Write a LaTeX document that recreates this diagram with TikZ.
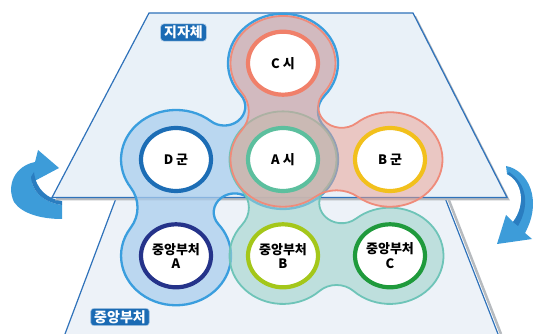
\documentclass[tikz,border=0pt]{standalone}
\usepackage{fontspec}
\setmainfont{Noto Sans CJK KR}
\usetikzlibrary{shapes.geometric}
\definecolor{planefill}{HTML}{E9F1F8}
\definecolor{planeline}{HTML}{2F72BA}
\definecolor{shadowgray}{HTML}{B7BBBF}
\definecolor{lowfill}{HTML}{EDF2F8}
\definecolor{bluefill}{HTML}{A9CDEE}
\definecolor{blueline}{HTML}{3A9EDE}
\definecolor{salfill}{HTML}{EB9F8F}
\definecolor{salline}{HTML}{EF8B7A}
\definecolor{tealfill}{HTML}{9FD3CC}
\definecolor{tealline}{HTML}{6EC4B8}
\definecolor{ringC}{HTML}{F0806A}
\definecolor{ringA}{HTML}{5CBF9E}
\definecolor{ringD}{HTML}{1C6DB5}
\definecolor{ringB}{HTML}{F2C01C}
\definecolor{ringMA}{HTML}{25338A}
\definecolor{ringMB}{HTML}{A4C71A}
\definecolor{ringMC}{HTML}{1F9A3C}
\definecolor{arrowblue}{HTML}{3D9CD9}
\definecolor{arrowdark}{HTML}{2A7DC0}
\definecolor{tagblue}{HTML}{1B6BB4}
% fillet between lobe P and lobe Q (outer side on the right of P->Q)
\newcommand\bxfil[7]{%
 \pgfmathsetmacro\bxdx{(#4)-(#2)}%
 \pgfmathsetmacro\bxdy{(#5)-(#3)}%
 \pgfmathsetmacro\bxd{veclen(\bxdx,\bxdy)}%
 \pgfmathsetmacro\bxh{sqrt(max(((#6)+(#7))^2-(\bxd/2)^2,0))}%
 \pgfmathsetmacro\bxfx{((#2)+(#4))/2+\bxh*\bxdy/\bxd}%
 \pgfmathsetmacro\bxfy{((#3)+(#5))/2-\bxh*\bxdx/\bxd}%
 \pgfmathsetmacro\bxap{atan2((\bxfy)-(#3),(\bxfx)-(#2))}%
 \pgfmathsetmacro\bxaq{atan2((\bxfy)-(#5),(\bxfx)-(#4))}%
 \pgfmathsetmacro\bxfs{(\bxap)+180}%
 \pgfmathsetmacro\bxfe{(\bxfs)-mod(mod((\bxfs)-(\bxaq)-180,360)+360,360)}%
 \expandafter\xdef\csname#1ap\endcsname{\bxap}%
 \expandafter\xdef\csname#1aq\endcsname{\bxaq}%
 \expandafter\xdef\csname#1s\endcsname{\bxfs}%
 \expandafter\xdef\csname#1e\endcsname{\bxfe}%
 \expandafter\xdef\csname#1f\endcsname{#7}%
}
% lobe arc: #1 name, #2 incoming fillet, #3 outgoing fillet, #4 #5 centre, #6 radius
\newcommand\bxlob[6]{%
 \pgfmathsetmacro\bxls{\csname#2aq\endcsname}%
 \pgfmathsetmacro\bxle{(\bxls)+mod(mod((\csname#3ap\endcsname)-(\bxls),360)+360,360)}%
 \pgfmathsetmacro\bxsx{(#4)+(#6)*cos(\bxls)}%
 \pgfmathsetmacro\bxsy{(#5)+(#6)*sin(\bxls)}%
 \expandafter\xdef\csname#1ls\endcsname{\bxls}%
 \expandafter\xdef\csname#1le\endcsname{\bxle}%
 \expandafter\xdef\csname#1sx\endcsname{\bxsx}%
 \expandafter\xdef\csname#1sy\endcsname{\bxsy}%
}
\newcommand\bxLA[2]{arc[start angle=\csname#1ls\endcsname,end angle=\csname#1le\endcsname,radius=#2]}
\newcommand\bxFA[1]{arc[start angle=\csname#1s\endcsname,end angle=\csname#1e\endcsname,radius=\csname#1f\endcsname]}
\begin{document}
\begin{tikzpicture}[x=1pt,y=-1pt,
  blueblob/.style={fill=bluefill,fill opacity=0.72,draw=blueline,line width=2.3pt},
  salblob/.style={fill=salfill,fill opacity=0.5,draw=salline,line width=1.8pt},
  tealblob/.style={fill=tealfill,fill opacity=0.6,draw=tealline,line width=1.8pt},
  ring/.style={ellipse,minimum width=70pt,minimum height=63pt,inner sep=0pt,
    line width=4.2pt,fill=white,align=center,text=black,
    font=\bfseries\fontsize{13}{14.5}\selectfont},
  tag/.style={fill=tagblue,text=white,rounded corners=3pt,inner xsep=3.5pt,inner ysep=2pt,
    draw=white!65!tagblue,line width=0.6pt,font=\bfseries\fontsize{14}{16}\selectfont},
  planeedge/.style={draw=planeline,line width=1.2pt}]
\useasboundingbox (0,0) rectangle (536,334);

% rotating arrows
\fill[arrowblue] (62,205) .. controls (48,203) and (33,196) .. (31,177)
  -- (27,185) -- (59,168) -- (38,150) -- (35,162)
  .. controls (15,166) and (6,185) .. (14,202)
  .. controls (22,214) and (42,219) .. (62,219) -- cycle;
\fill[arrowdark] (62,205) .. controls (48,203) and (33,196) .. (31,177)
  -- (34,172) .. controls (36,190) and (48,199) .. (62,201) -- cycle;
\fill[arrowblue] (506,166) .. controls (528,170) and (543,200) .. (525,233)
  -- (532,239) -- (497,244) -- (506,215) -- (513,222)
  .. controls (526,205) and (523,182) .. (507,174) -- cycle;
\fill[arrowdark] (513,222) .. controls (526,205) and (523,182) .. (507,174)
  -- (509,172) .. controls (527,184) and (530,205) .. (518,226) -- cycle;

% lower plane
\fill[lowfill] (121,185) -- (440,185) -- (498,334) -- (65,334) -- cycle;
\draw[shadowgray,line width=2.5pt] (443,185) -- (501,334);
\draw[planeedge] (121,185) -- (65,334);
\draw[planeedge] (440,185) -- (498,334);

% upper plane
\fill[shadowgray,shift={(3,3)}] (149,13) -- (413,13) -- (507,197.5) -- (52,197.5) -- cycle;
\filldraw[fill=planefill,planeedge] (149,13) -- (413,13) -- (507,197.5) -- (52,197.5) -- cycle;

\begin{scope}[x=10pt,y=9pt,shift={(283pt,-159.5pt)}]
% blue group: C, D, A, ministry A
\bxfil{bCD}{0}{10.7}{-10.7}{0}{5.5}{2.1}
\bxfil{bDM}{-10.7}{0}{-10.7}{-10.7}{5.5}{4.0}
\bxfil{bMA}{-10.7}{-10.7}{0}{0}{5.5}{2.1}
\bxfil{bAC}{0}{0}{0}{10.7}{5.5}{2.65}
\bxlob{bC}{bAC}{bCD}{0}{10.7}{5.5}
\bxlob{bD}{bCD}{bDM}{-10.7}{0}{5.5}
\bxlob{bM}{bDM}{bMA}{-10.7}{-10.7}{5.5}
\bxlob{bA}{bMA}{bAC}{0}{0}{5.5}
% teal group: A, ministry B, ministry C
\bxfil{tAM}{0}{0}{0}{-10.7}{5.35}{3.0}
\bxfil{tMC}{0}{-10.7}{10.7}{-10.7}{5.35}{2.5}
\bxfil{tCA}{10.7}{-10.7}{0}{0}{5.35}{2.25}
\bxlob{tA}{tCA}{tAM}{0}{0}{5.35}
\bxlob{tM}{tAM}{tMC}{0}{-10.7}{5.35}
\bxlob{tC}{tMC}{tCA}{10.7}{-10.7}{5.35}
% salmon group: C, A, B
\bxfil{sCA}{0}{10.7}{0}{0}{5.25}{3.5}
\bxfil{sAB}{0}{0}{10.7}{0}{5.25}{3.5}
\bxfil{sBC}{10.7}{0}{0}{10.7}{5.25}{2.35}
\bxlob{sC}{sBC}{sCA}{0}{10.7}{5.25}
\bxlob{sA}{sCA}{sAB}{0}{0}{5.25}
\bxlob{sB}{sAB}{sBC}{10.7}{0}{5.25}

\edef\bxpath{\noexpand\path[blueblob] (\csname bCsx\endcsname,\csname bCsy\endcsname)
  \bxLA{bC}{5.5} \bxFA{bCD} \bxLA{bD}{5.5} \bxFA{bDM}
  \bxLA{bM}{5.5} \bxFA{bMA} \bxLA{bA}{5.5} \bxFA{bAC} -- cycle;}
\bxpath
\edef\bxpath{\noexpand\path[tealblob] (\csname tAsx\endcsname,\csname tAsy\endcsname)
  \bxLA{tA}{5.35} \bxFA{tAM} \bxLA{tM}{5.35} \bxFA{tMC}
  \bxLA{tC}{5.35} \bxFA{tCA} -- cycle;}
\bxpath
\edef\bxpath{\noexpand\path[salblob] (\csname sCsx\endcsname,\csname sCsy\endcsname)
  \bxLA{sC}{5.25} \bxFA{sCA} \bxLA{sA}{5.25} \bxFA{sAB}
  \bxLA{sB}{5.25} \bxFA{sBC} -- cycle;}
\bxpath

\node[ring,draw=ringC] (C) at (0,10.7) {C 시};
\node[ring,draw=ringD] (D) at (-10.7,0) {D 군};
\node[ring,draw=ringA] (A) at (0,0) {A 시};
\node[ring,draw=ringB] (B) at (10.7,0) {B 군};
\node[ring,draw=ringMA] (MA) at (-10.7,-10.7) {중앙부처\\A};
\node[ring,draw=ringMB] (MB) at (0,-10.7) {중앙부처\\B};
\node[ring,draw=ringMC] (MC) at (10.7,-10.7) {중앙부처\\C};
\end{scope}

\node[tag] (local) at (183.5,32.5) {지자체};
\node[tag] (central) at (120,317) {중앙부처};
\end{tikzpicture}
\end{document}
